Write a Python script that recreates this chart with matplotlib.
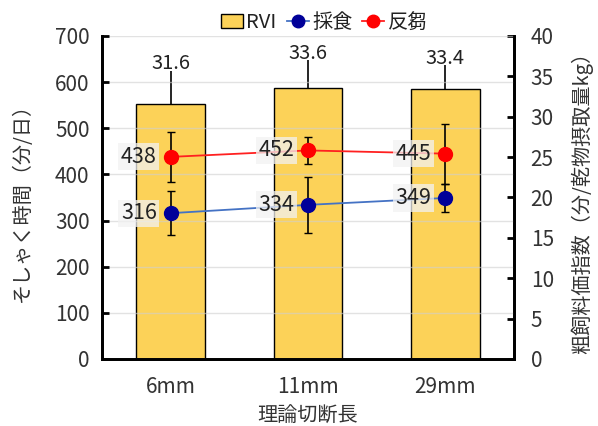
import matplotlib
matplotlib.use('Agg')
import matplotlib.pyplot as plt
from matplotlib.lines import Line2D
import numpy as np

plt.rcParams['font.family'] = ['Noto Sans CJK JP', 'DejaVu Sans']

categories = ['6mm', '11mm', '29mm']
rvi = [31.6, 33.6, 33.4]
rvi_sd = [4.1, 3.4, 3.0]
eating = [316, 334, 349]
eating_sd = [47, 60, 30]
rumination = [438, 452, 445]
rumination_sd = [55, 29, 65]

fig = plt.figure(figsize=(5.98, 4.26), dpi=100)
ax = fig.add_axes([0.1706, 0.1573, 0.6889, 0.7582])
ax2 = ax.twinx()
ax.set_zorder(2); ax2.set_zorder(1)
ax.patch.set_visible(False)

x = np.arange(len(categories))
txt = '#333333'

# RVI bars on right axis
bars = ax2.bar(x, rvi, width=0.5, color='#FCD258', edgecolor='black', lw=1.0, zorder=2)
ax2.errorbar(x, rvi, yerr=[np.zeros(3), rvi_sd], fmt='none', ecolor='black', elinewidth=1.2, capsize=0, zorder=3)
for xi, v, s in zip(x, rvi, rvi_sd):
    ax2.annotate(f'{v}', xy=(xi, v + s), xytext=(0, 5), textcoords='offset points',
                 ha='center', va='center', fontsize=14.5, color='#222222', zorder=4)

# lines on left axis
ax.errorbar(x, eating, yerr=eating_sd, fmt='o-', color='#4472C4', lw=1.3, ms=10,
            markerfacecolor='#000099', markeredgecolor='#000099',
            ecolor='black', elinewidth=1.2, capsize=3, zorder=5)
ax.errorbar(x, rumination, yerr=rumination_sd, fmt='o-', color='#FF2020', lw=1.3, ms=10,
            markerfacecolor='#FF0000', markeredgecolor='#FF0000',
            ecolor='black', elinewidth=1.2, capsize=3, zorder=5)
for series in (eating, rumination):
    for xi, v in zip(x, series):
        ax.annotate(f'{v}', xy=(xi, v), xytext=(-10, 0), textcoords='offset points',
                    ha='right', va='center', fontsize=15.5, color='#222222', zorder=6,
                    bbox=dict(boxstyle='square,pad=0.12', facecolor='#F2F2F2', edgecolor='none', alpha=0.75))

ax.set_xlim(-0.5, 2.5)
ax.set_ylim(0, 700)
ax.set_yticks(range(0, 701, 100))
ax2.set_ylim(0, 40)
ax2.set_yticks(range(0, 41, 5))
ax.grid(True, axis='y', color='#D0D0D0', lw=1.0, alpha=0.6)
ax.set_xticks(x)
ax.set_xticklabels(categories)

for a in (ax, ax2):
    a.spines['top'].set_visible(False)
    for s in ('left', 'right', 'bottom'):
        a.spines[s].set_linewidth(2.0)
ax.tick_params(axis='y', direction='in', length=5, width=2, labelsize=15, labelcolor=txt, pad=9)
ax2.tick_params(axis='y', direction='in', length=5, width=2, labelsize=15, labelcolor=txt, pad=12)
ax.tick_params(axis='x', length=0, labelsize=15, labelcolor=txt, pad=12)

ax.set_ylabel('そしゃく時間（分/日）', fontsize=14.5, color=txt, labelpad=16)
ax2.set_ylabel('粗飼料価指数（分/乾物摂取量kg）', fontsize=14.5, color=txt, labelpad=12)
ax.set_xlabel('理論切断長', fontsize=14.5, color=txt, labelpad=6)

handles = [bars,
           Line2D([], [], color='#4472C4', marker='o', ms=9, markerfacecolor='#000099',
                  markeredgecolor='#000099', lw=1.3),
           Line2D([], [], color='#FF2020', marker='o', ms=9, markerfacecolor='#FF0000',
                  markeredgecolor='#FF0000', lw=1.3)]
ax.legend(handles, ['RVI', '採食', '反芻'], loc='lower center', bbox_to_anchor=(0.54, 0.985), ncol=3,
          frameon=False, fontsize=14.5, handlelength=1.1, handletextpad=0.15, columnspacing=0.5,
          borderaxespad=0, labelcolor='#222222')

plt.savefig('out.png', dpi=100, facecolor='white')
